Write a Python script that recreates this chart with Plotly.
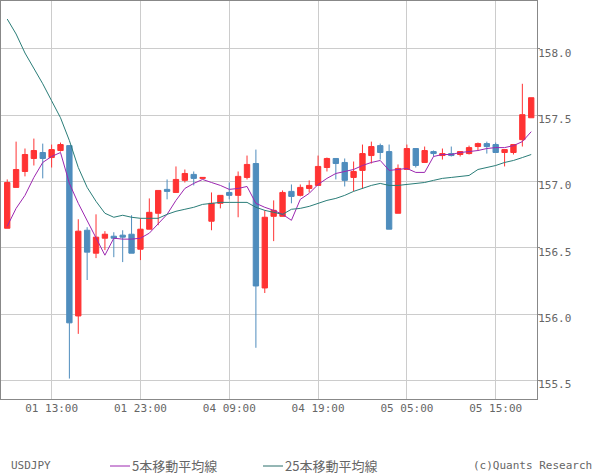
import plotly.graph_objects as go

# 1 hour bars, weekend gap removed so x is just the bar number
bar_no = list(range(60))

open_ = [156.647, 156.955, 157.075, 157.173, 157.218, 157.180, 157.233, 157.270, 155.986, 156.632,
         156.459, 156.572, 156.587, 156.595, 156.602, 156.489, 156.640, 156.760, 156.940, 156.917,
         157.008, 157.053, 157.023, 156.700, 156.835, 156.917, 156.895, 157.030, 157.135, 156.197,
         156.737, 156.737, 156.925, 156.895, 156.947, 156.970, 157.105, 157.173, 157.143, 157.030,
         157.083, 157.195, 157.270, 157.225, 156.760, 157.090, 157.248, 157.143, 157.225, 157.195,
         157.210, 157.203, 157.210, 157.263, 157.285, 157.278, 157.218, 157.218, 157.315, 157.480]
high = [157.015, 157.300, 157.248, 157.323, 157.285, 157.278, 157.293, 157.270, 156.715, 156.655,
        156.752, 156.625, 156.617, 156.632, 156.745, 156.722, 156.872, 156.932, 157.015, 157.113,
        157.090, 157.075, 157.030, 156.917, 156.895, 156.992, 157.075, 157.195, 157.240, 156.782,
        156.857, 156.932, 156.977, 156.977, 157.008, 157.195, 157.180, 157.173, 157.173, 157.150,
        157.278, 157.300, 157.285, 157.278, 157.128, 157.278, 157.248, 157.263, 157.233, 157.248,
        157.263, 157.225, 157.270, 157.293, 157.300, 157.293, 157.240, 157.278, 157.736, 157.631]
low = [156.647, 156.955, 157.038, 157.120, 157.023, 157.105, 157.225, 155.514, 155.851, 156.257,
       156.422, 156.482, 156.429, 156.392, 156.459, 156.407, 156.640, 156.670, 156.865, 156.917,
       156.992, 156.970, 157.023, 156.632, 156.797, 156.865, 156.730, 157.015, 155.746, 156.159,
       156.550, 156.737, 156.835, 156.887, 156.917, 156.970, 157.075, 157.015, 156.962, 156.925,
       156.947, 157.135, 157.165, 156.640, 156.760, 157.090, 157.105, 157.143, 157.188, 157.165,
       157.188, 157.188, 157.203, 157.233, 157.210, 157.218, 157.113, 157.203, 157.263, 157.480]
close = [156.992, 157.090, 157.203, 157.233, 157.173, 157.240, 157.278, 155.934, 156.625, 156.467,
         156.580, 156.602, 156.572, 156.580, 156.459, 156.640, 156.767, 156.932, 156.925, 157.015,
         157.060, 157.023, 157.030, 156.835, 156.895, 156.895, 157.038, 157.128, 156.212, 156.730,
         156.782, 156.917, 156.887, 156.955, 156.970, 157.113, 157.173, 157.135, 157.008, 157.075,
         157.210, 157.263, 157.218, 156.640, 157.098, 157.248, 157.120, 157.233, 157.210, 157.210,
         157.195, 157.225, 157.255, 157.285, 157.263, 157.218, 157.240, 157.278, 157.503, 157.631]

ma5 = [156.662, 156.797, 156.895, 157.030, 157.143, 157.188, 157.218, 156.985, 156.835, 156.707,
       156.580, 156.444, 156.572, 156.565, 156.565, 156.572, 156.610, 156.677, 156.752, 156.857,
       156.947, 156.985, 157.015, 156.992, 156.970, 156.940, 156.947, 156.962, 156.835, 156.805,
       156.782, 156.752, 156.707, 156.865, 156.910, 156.977, 157.023, 157.060, 157.075, 157.090,
       157.120, 157.143, 157.158, 157.083, 157.090, 157.098, 157.068, 157.068, 157.188, 157.203,
       157.203, 157.218, 157.225, 157.233, 157.248, 157.255, 157.255, 157.270, 157.300, 157.375]
ma25 = [158.224, 158.111, 157.968, 157.856, 157.736, 157.608, 157.480, 157.308, 157.105, 156.955,
        156.850, 156.760, 156.730, 156.745, 156.730, 156.722, 156.722, 156.722, 156.752, 156.775,
        156.790, 156.805, 156.827, 156.835, 156.842, 156.842, 156.842, 156.842, 156.805, 156.782,
        156.767, 156.752, 156.790, 156.797, 156.812, 156.835, 156.857, 156.872, 156.895, 156.925,
        156.947, 156.970, 156.985, 156.970, 156.970, 156.977, 156.985, 156.992, 157.008, 157.023,
        157.030, 157.038, 157.045, 157.090, 157.105, 157.120, 157.143, 157.158, 157.180, 157.203]

x_ticks = [5, 15, 25, 35, 45, 55]
x_labels = ["01 13:00", "01 23:00", "04 09:00", "04 19:00", "05 05:00", "05 15:00"]
y_ticks = [155.5, 156.0, 156.5, 157.0, 157.5, 158.0]
y_labels = ["155.5", "156.0", "156.5", "157.0", "157.5", "158.0"]

RED = "#ff3333"
BLUE = "#4f8dbd"
PURPLE = "#9c27b0"
TEAL = "#2a7d78"
GREY = "#666666"
MONO = "DejaVu Sans Mono"

fig = go.Figure()
fig.add_trace(go.Candlestick(
    x=bar_no, open=open_, high=high, low=low, close=close,
    increasing=dict(line=dict(color=RED, width=1), fillcolor=RED),
    decreasing=dict(line=dict(color=BLUE, width=1), fillcolor=BLUE),
    name="USDJPY",
))
fig.add_trace(go.Scatter(x=bar_no, y=ma5, mode="lines", name="5本移動平均線",
                         line=dict(color=PURPLE, width=1)))
fig.add_trace(go.Scatter(x=bar_no, y=ma25, mode="lines", name="25本移動平均線",
                         line=dict(color=TEAL, width=1)))

fig.update_layout(
    width=600, height=475,
    margin=dict(l=1, r=63, t=1, b=76),
    paper_bgcolor="white", plot_bgcolor="white",
    showlegend=False,
    boxgap=0.14,
    font=dict(family=MONO, size=11, color=GREY),
)
fig.update_xaxes(
    range=[-0.7, 59.65], rangeslider_visible=False,
    tickmode="array", tickvals=x_ticks, ticktext=x_labels,
    showgrid=True, gridcolor="#cccccc", gridwidth=1, zeroline=False,
    showline=True, linecolor="#888888", linewidth=1, mirror=True,
    ticks="", ticklabelstandoff=-1,
)
fig.update_yaxes(
    range=[155.36, 158.36], side="right",
    tickmode="array", tickvals=y_ticks, ticktext=y_labels,
    showgrid=True, gridcolor="#cccccc", gridwidth=1, zeroline=False,
    showline=True, linecolor="#888888", linewidth=1, mirror=True,
    ticks="outside", ticklen=2, tickcolor="#888888",
    ticklabelshift=4, ticklabelstandoff=-4,
)

# bottom strip: symbol, hand placed legend, credit
def bottom_text(text, x_px, family=MONO, size=11):
    fig.add_annotation(text=text, xref="paper", yref="paper",
                       x=(x_px - 1) / 536, y=-66 / 398, xanchor="left", yanchor="middle",
                       showarrow=False, align="left", xshift=0,
                       font=dict(family=family, size=size, color=GREY))

def legend_line(x0_px, x1_px, color):
    fig.add_shape(type="line", xref="paper", yref="paper",
                  x0=(x0_px - 1) / 536, x1=(x1_px - 1) / 536, y0=-67 / 398, y1=-67 / 398,
                  line=dict(color=color, width=1))

bottom_text("USDJPY", 9)
legend_line(110, 130, PURPLE)
bottom_text("5本移動平均線", 130, "Noto Sans CJK JP", 13)
legend_line(263, 283, "#2a6f6a")
bottom_text("25本移動平均線", 283, "Noto Sans CJK JP", 13)
bottom_text("(c)Quants Research", 471)

# page body has a default 8px margin, drop it so the chart fills the window
fig.write_html("out.html", config=dict(displayModeBar=False),
               post_script="document.body.style.margin='0';document.documentElement.style.overflow='hidden';")
